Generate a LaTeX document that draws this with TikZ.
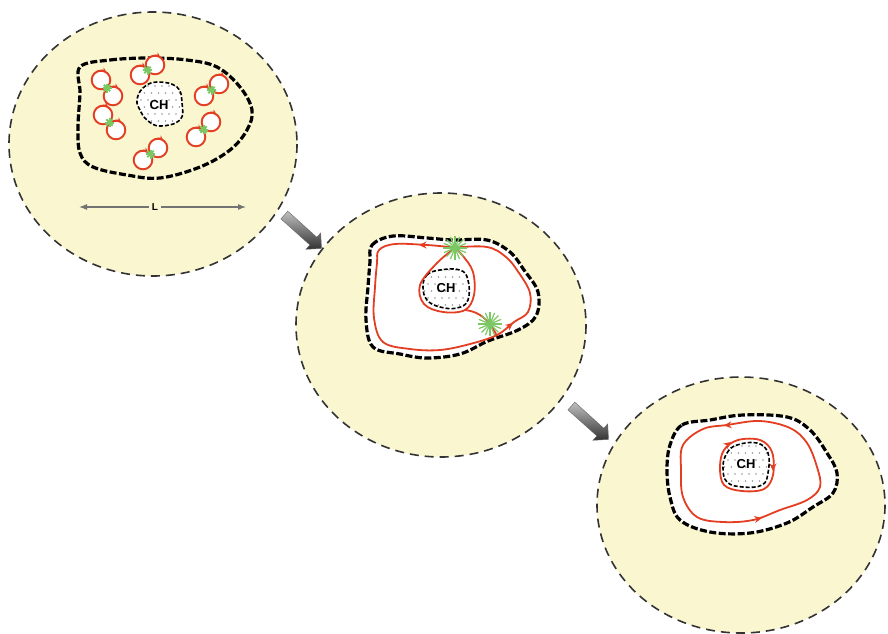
\documentclass[tikz,border=0pt]{standalone}
\usepackage{fontspec}
\setsansfont{Liberation Sans}
\usetikzlibrary{shapes.arrows,arrows.meta,calc}

\definecolor{cream}{RGB}{249,246,208}
\definecolor{flux}{RGB}{228,62,34}
\definecolor{burst}{RGB}{122,200,100}

\tikzset{
  disk/.style={fill=cream,draw=black!80,line width=1.6pt,dash pattern=on 9pt off 6pt},
  rim/.style={draw=black,line width=3.2pt,dash pattern=on 7pt off 2.5pt},
  hole/.style={draw=black,line width=1.6pt,dash pattern=on 4pt off 2pt},
  fluxline/.style={draw=flux,line width=1.8pt},
  fluxtip/.style={fluxline,-{Stealth[length=7.5pt,width=7pt]}},
  vortex/.style={draw=flux,line width=1.9pt,fill=white},
  spark/.style={draw=burst,line width=1.2pt},
  corelabel/.style={font=\sffamily\bfseries\fontsize{13}{13}\selectfont,inner sep=1pt},
  dim/.style={draw=black!55,line width=1.1pt,-{Latex[length=8pt,width=6pt]}},
  push/.style={single arrow,minimum height=50pt,minimum width=22pt,
    single arrow head extend=4pt,single arrow tip angle=90,
    top color=black!25,bottom color=black!80,draw=black!60,line width=.4pt}
}

% dotted core with dashed outline: #1 outline points, #2,#3 a point inside
\newcommand\core[3]{%
  \fill[white] plot[smooth cycle,tension=.7] coordinates {#1};
  \begin{scope}
    \clip plot[smooth cycle,tension=.7] coordinates {#1};
    \foreach \i in {0,...,9} \foreach \j in {0,...,9}
      \fill[black!40] ({#2-32+\i*7+3.5*mod(\j,2)},{#3-32+\j*7}) circle (.9);
  \end{scope}
  \draw[hole] plot[smooth cycle,tension=.7] coordinates {#1};}

% two touching current loops with a spark between them
\newcommand\vpair[2]{%
  \draw[vortex] (#1) circle (9.3);
  \draw[vortex] (#2) circle (9.3);
  \draw[fluxline,-{Stealth[length=5pt,width=5pt]}] (#1) ++(-110:9.3) arc[start angle=-110,end angle=-55,radius=9.3];
  \draw[fluxline,-{Stealth[length=5pt,width=5pt]}] (#2) ++(-110:9.3) arc[start angle=-110,end angle=-55,radius=9.3];
  \foreach \a in {0,45,90,135}
    \draw[spark,line width=2pt] ($(#1)!.5!(#2)$) +(\a:4.5) -- +(\a+180:4.5);}

\newcommand\burst[1]{%
  \foreach \a in {0,22.5,...,157.5}
    \draw[spark] (#1) +(\a:12) -- +(\a+180:12);}

\begin{document}
\begin{tikzpicture}[x=1pt,y=-1pt]
\useasboundingbox (0,0) rectangle (888,633);

% first stage
\draw[disk] (153,144) ellipse [x radius=144,y radius=132];
\draw[rim] plot[smooth cycle,tension=.6] coordinates {(80,67) (110,60) (150,58) (187,60) (217,67) (240,87) (252,110) (247,130) (230,150) (200,167) (160,178) (127,175) (93,167) (80,153) (78,127) (80,93)};
\core{(137,100) (143,88) (157,82) (177,87) (182,103) (180,120) (160,126) (147,120) (140,110)}{159}{104}
\node[corelabel] (ch1) at (159,105) {CH};
\vpair{101,80}{113,96}
\vpair{140,75}{155,65}
\vpair{204,96}{219,84}
\vpair{103,115}{116,130}
\vpair{196,137}{211,122}
\vpair{143,160}{158,148}
\node[corelabel,font=\sffamily\bfseries\fontsize{10}{10}\selectfont,fill=cream,inner xsep=3pt] (len) at (155,207) {L};
\coordinate (lenL) at (79,207);
\coordinate (lenR) at (246,207);
\draw[dim] (len) -- (lenL);
\draw[dim] (len) -- (lenR);

% second stage
\draw[disk] (441,325) ellipse [x radius=145,y radius=132];
\fill[white] plot[smooth cycle,tension=.6] coordinates {(370,262) (372,245) (393,236) (427,238) (453,240) (487,240) (510,252) (524,270) (538,292) (536,316) (518,330) (488,341) (460,354) (427,358) (400,354) (373,347) (366,320) (368,287)};
\draw[rim] plot[smooth cycle,tension=.6] coordinates {(370,262) (372,245) (393,236) (427,238) (453,240) (487,240) (510,252) (524,270) (538,292) (536,316) (518,330) (488,341) (460,354) (427,358) (400,354) (373,347) (366,320) (368,287)};
\core{(423,287) (427,275) (440,270) (460,270) (468,280) (468,300) (457,308) (440,307) (427,300)}{446}{288}
\node[corelabel] (ch2) at (446,288) {CH};
\draw[fluxline] plot[smooth cycle,tension=.6] coordinates {(377,263) (379,250) (395,244) (427,245) (453,247) (487,247) (506,257) (519,273) (530,293) (528,312) (514,322) (497,335) (470,344) (440,350) (410,349) (383,342) (374,318) (375,287)};
\draw[fluxline] plot[smooth,tension=.6] coordinates {(455,248) (437,263) (420,285) (424,304) (443,312) (465,310) (474,295) (473,272) (463,256) (455,248)};
\draw[fluxline] (465,310) .. controls (484,312) and (492,326) .. (497,336);
\draw[fluxtip] (424,245) -- (419,245);
\draw[fluxtip] (508,327) -- (513,323);
\burst{455,248}
\burst{490,324}

% third stage
\draw[disk] (741,505) ellipse [x radius=144,y radius=128];
\fill[white] plot[smooth cycle,tension=.6] coordinates {(670,445) (682,425) (710,420) (743,415) (787,417) (810,430) (827,453) (837,473) (833,493) (813,507) (787,523) (750,533) (710,532) (680,520) (670,497) (667,470)};
\draw[rim] plot[smooth cycle,tension=.6] coordinates {(670,445) (682,425) (710,420) (743,415) (787,417) (810,430) (827,453) (837,473) (833,493) (813,507) (787,523) (750,533) (710,532) (680,520) (670,497) (667,470)};
\core{(723,467) (727,453) (737,445) (757,443) (768,453) (768,473) (762,485) (743,487) (727,482)}{746}{464}
\node[corelabel] (ch3) at (746,464) {CH};
\draw[fluxline] plot[smooth cycle,tension=.6] coordinates {(683,445) (703,429) (727,425) (760,421) (790,428) (807,443) (817,467) (820,487) (807,500) (780,510) (753,520) (723,522) (697,517) (683,497) (681,470)};
\draw[fluxline] plot[smooth cycle,tension=.6] coordinates {(720,467) (724,450) (738,440) (760,440) (772,452) (773,475) (764,489) (742,491) (724,485)};
\draw[fluxtip] (729,425) -- (724,425.5);
\draw[fluxtip] (757,519) -- (762,518);
\draw[fluxtip] (727,445) -- (731,442);
\draw[fluxtip] (773,465) -- (773,471);

% arrows between stages
\node[push,rotate=-42] (go1) at (301,230) {};
\node[push,rotate=-42] (go2) at (588,421) {};
\end{tikzpicture}
\end{document}
